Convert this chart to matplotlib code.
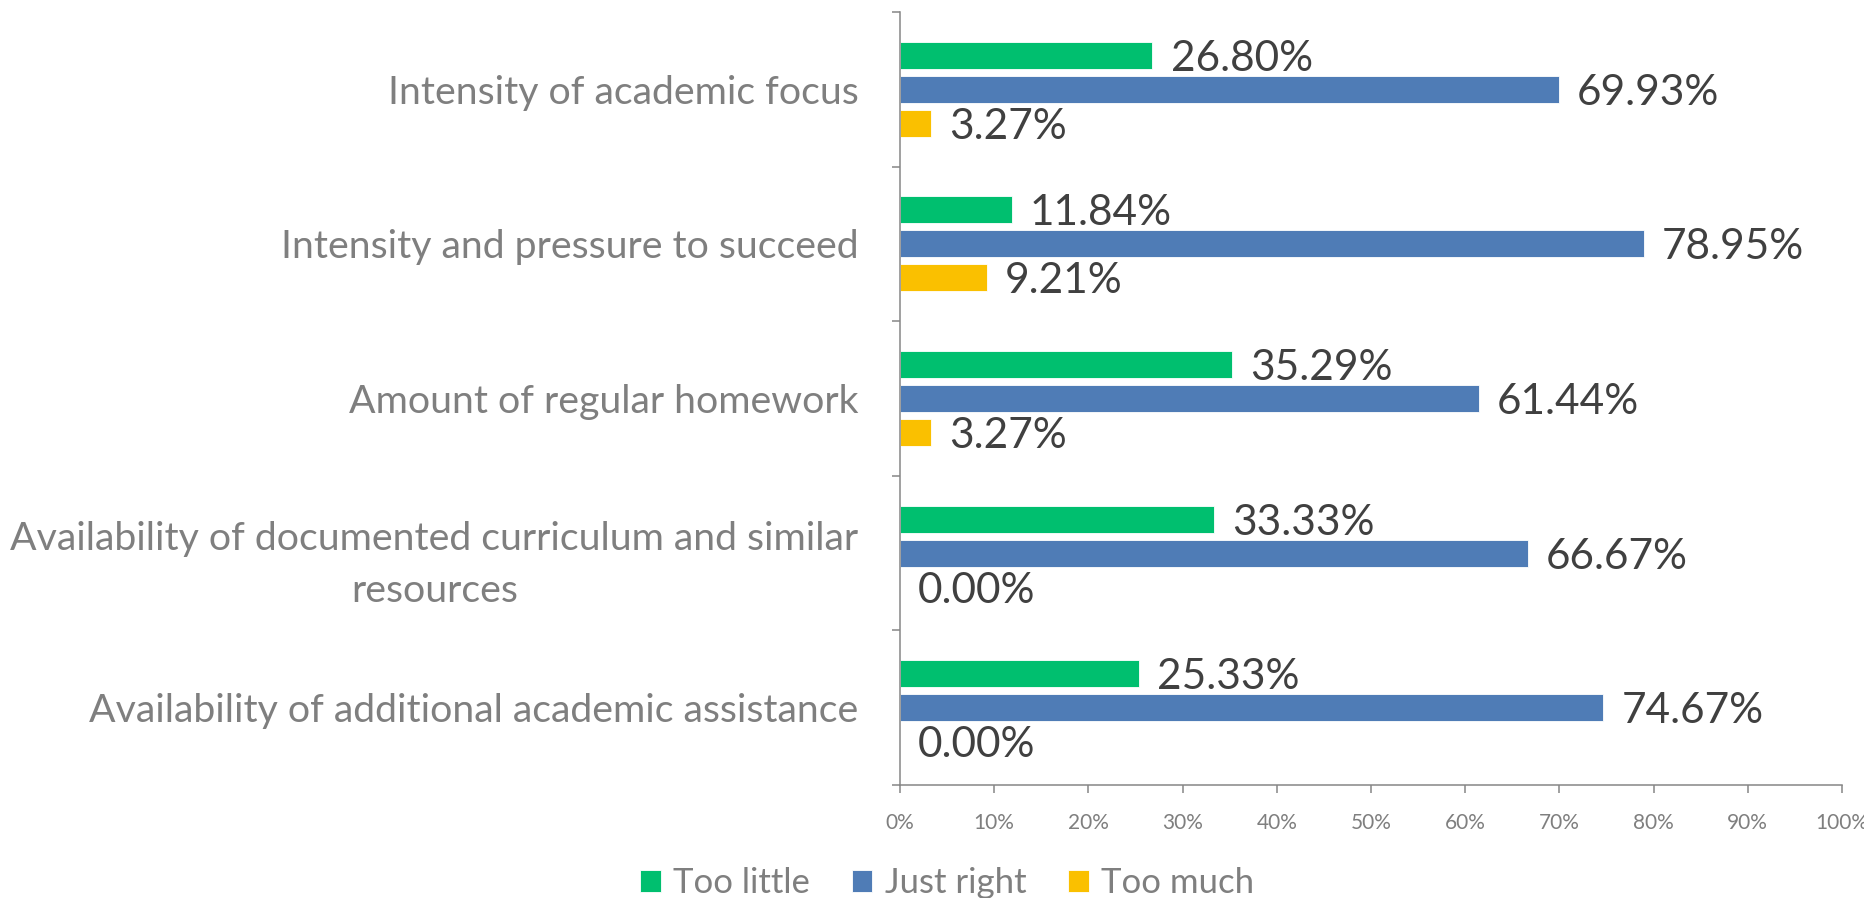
import numpy as np
import matplotlib
matplotlib.use("Agg")
import matplotlib.pyplot as plt
from matplotlib.ticker import FixedLocator, PercentFormatter

plt.rcParams['font.family'] = ['Lato', 'DejaVu Sans']

# categories from bottom to top
categories = [
    "Availability of additional academic assistance",
    "Availability of documented curriculum and similar\nresources",
    "Amount of regular homework",
    "Intensity and pressure to succeed",
    "Intensity of academic focus",
]
too_little = [25.33, 33.33, 35.29, 11.84, 26.80]
just_right = [74.67, 66.67, 61.44, 78.95, 69.93]
too_much = [0.00, 0.00, 3.27, 9.21, 3.27]

series_names = ["Too little", "Just right", "Too much"]
colors = ["#00bf6f", "#4f7cb6", "#fac000"]

grey = "#7f7f7f"
spine_grey = "#868686"
label_dark = "#404040"

fig = plt.figure(figsize=(18.64, 8.98), dpi=100)
ax = fig.add_axes([900/1864, 1-785/898, 942/1864, 773/898])

y = np.arange(len(categories))
offsets = [0.22, 0.0, -0.22]
bar_h = 0.175

bars_all = []
for vals, off, col, name in zip([too_little, just_right, too_much], offsets, colors, series_names):
    bars = ax.barh(y + off, vals, height=bar_h, color=col, label=name,
                   edgecolor="white", linewidth=0.6)
    bars_all.append(bars)
    # data labels just right of each bar end
    for yy, v in zip(y + off, vals):
        ax.annotate(f"{v:.2f}%", xy=(v, yy), xytext=(13, 0), textcoords="offset points",
                    ha="left", va="center_baseline", fontsize=30.5, color=label_dark)

ax.set_xlim(0, 100)
ax.set_ylim(-0.5, len(categories) - 0.5)
ax.xaxis.set_major_locator(FixedLocator(np.arange(0, 101, 10)))
ax.xaxis.set_major_formatter(PercentFormatter(decimals=0))

ax.set_yticks(y)
ax.set_yticklabels(categories)
ax.yaxis.set_minor_locator(FixedLocator(np.arange(-0.5, len(categories), 1.0)))
ax.tick_params(axis="y", which="major", length=0, pad=30, labelsize=28.3, labelcolor=grey)
ax.tick_params(axis="y", which="minor", length=6, width=1.1, color=spine_grey, direction="out")
ax.tick_params(axis="x", which="major", length=6, width=1.1, color=spine_grey, direction="out",
               pad=14, labelsize=15, labelcolor=grey)
for lab in ax.get_yticklabels():
    lab.set_multialignment("center")
    lab.set_linespacing(1.55)

for s in ["top", "right"]:
    ax.spines[s].set_visible(False)
for s in ["left", "bottom"]:
    ax.spines[s].set_color(spine_grey)
    ax.spines[s].set_linewidth(1.1)

fig.legend(handles=bars_all, labels=series_names, loc="center", ncol=3,
           bbox_to_anchor=(947/1864, 1-883/898), frameon=False, fontsize=25,
           labelcolor=grey, handlelength=0.6, handleheight=0.6, handletextpad=0.35,
           columnspacing=1.2, borderpad=0)

fig.savefig("out.png", dpi=100)
